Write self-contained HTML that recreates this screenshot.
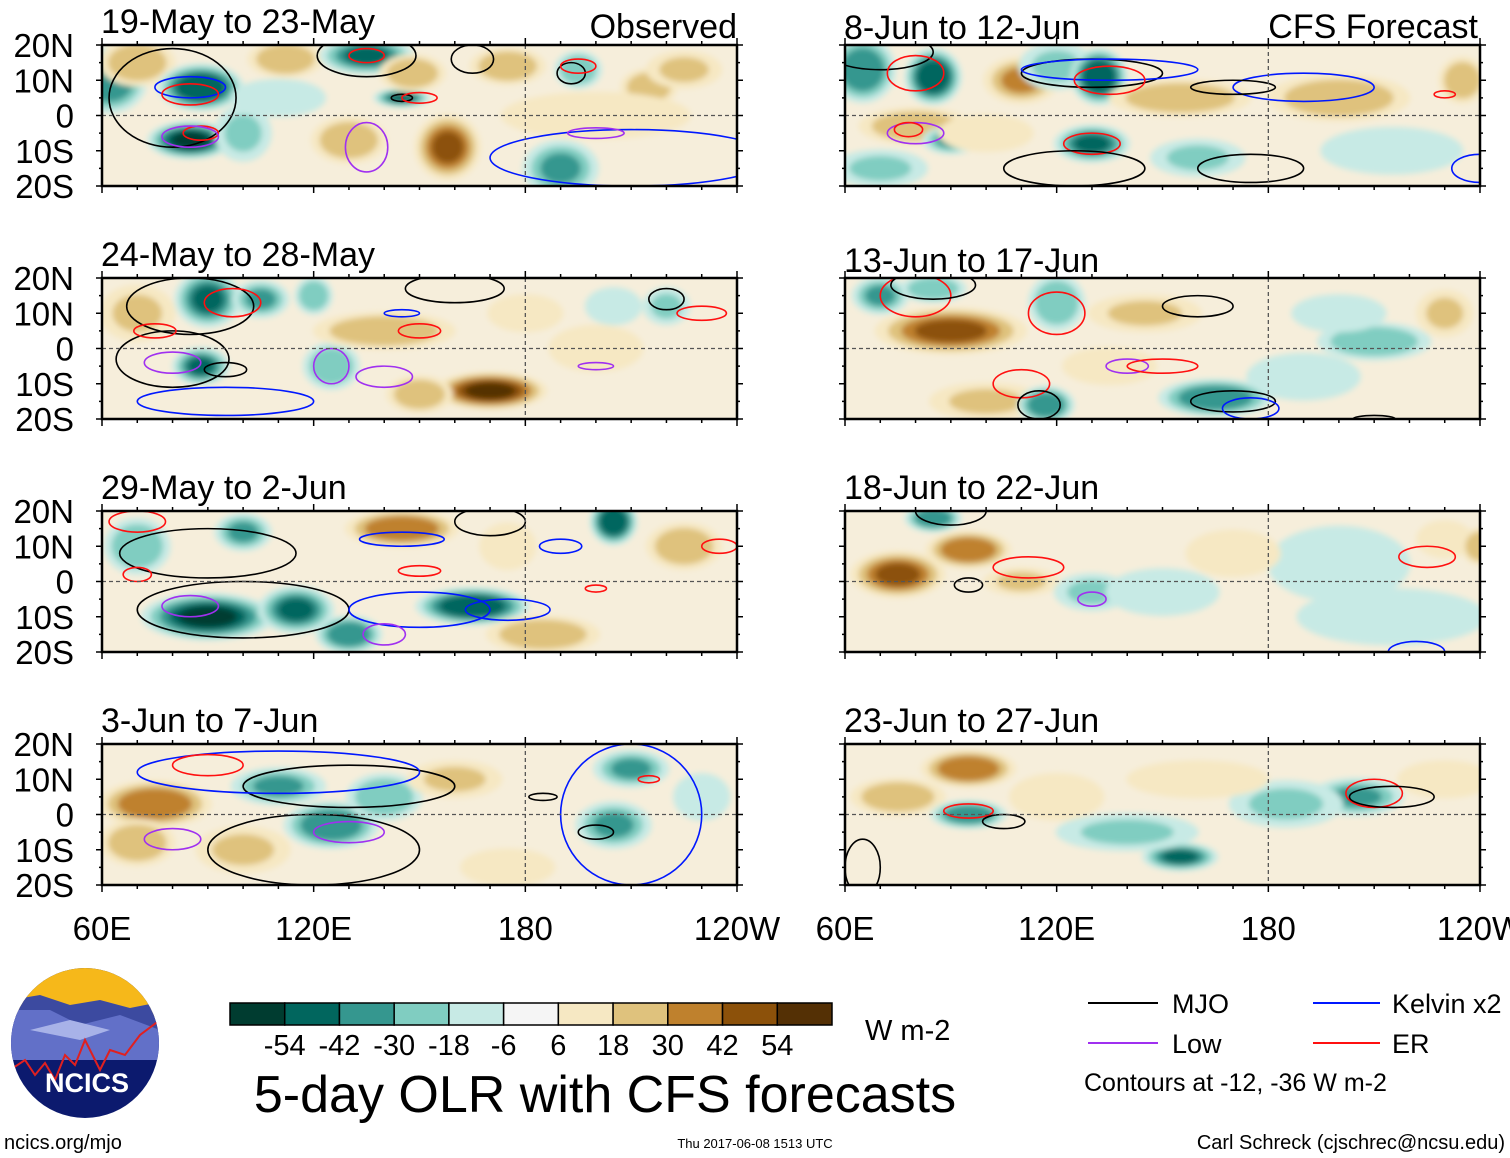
<!DOCTYPE html>
<html><head><meta charset="utf-8">
<style>
html,body{margin:0;padding:0;background:#fff;}
body{width:1510px;height:1158px;overflow:hidden;position:relative;font-family:"Liberation Sans",sans-serif;}
svg{position:absolute;left:0;top:0;}
</style></head>
<body>
<svg id="chart" width="1510" height="1158" viewBox="0 0 1510 1158">
<defs>
<filter id="blur" x="-50%" y="-50%" width="200%" height="200%"><feGaussianBlur stdDeviation="3"/></filter>
</defs>
<g id="panels"></g>
<g id="legend"></g>
</svg>
<script>
// colour scale
const binEdges=[-54,-42,-30,-18,-6,6,18,30,42,54];
const binColors=["#003c30","#01665e","#35978f","#80cdc1","#c7eae5","#f5f5f5","#f6e8c3","#dfc27d","#bf812d","#8c510a","#543005"];
const lonTicks=[60,120,180,240];
const lonTickLabels=["60E","120E","180","120W"];
const latTicks=[20,10,0,-10,-20];
const latTickLabels=["20N","10N","0","10S","20S"];
const panelTitles=["19-May to 23-May","24-May to 28-May","29-May to 2-Jun","3-Jun to 7-Jun","8-Jun to 12-Jun","13-Jun to 17-Jun","18-Jun to 22-Jun","23-Jun to 27-Jun"];
// anomaly blobs: [lon, lat, lonRadius, latRadius, value W m-2]
const anomP1=[[62,10,8,7,-40],[70,15,8,5,30],[88,8,9,5,-50],[85,-7,9,4,-55],[100,-5,6,6,-20],[112,16,8,4,30],[135,17,10,4,-45],[130,-7,8,5,30],[158,-9,7,7,45],[145,5,6,2,-45],[148,12,7,4,25],[175,14,8,4,25],[195,13,5,4,-25],[190,-15,8,6,-35],[215,8,6,4,25],[225,13,8,4,20],[110,5,10,4,-10],[200,0,20,5,12]];
const anomP2=[[90,14,7,6,-45],[105,14,6,4,-35],[88,-5,6,4,-45],[70,10,8,6,20],[125,-5,6,5,-25],[140,5,15,4,28],[170,-12,12,4,55],[150,-13,7,4,25],[200,0,10,5,15],[220,12,5,4,-20],[205,12,6,4,-15],[120,15,4,4,-25],[180,10,8,4,10]];
const anomP3=[[90,-10,14,5,-55],[115,-8,8,5,-45],[165,-7,12,4,-50],[145,15,12,4,40],[70,10,7,6,-25],[100,14,6,4,-30],[205,17,5,5,-50],[185,-15,12,4,25],[225,10,8,5,25],[175,10,6,5,15],[130,-15,7,4,-40]];
const anomP4=[[75,3,12,5,40],[70,-8,8,5,25],[125,-3,10,5,-40],[110,8,10,4,-30],[140,5,8,5,-25],[160,10,10,4,20],[205,-3,8,5,-35],[210,13,8,4,-30],[175,-15,10,4,15],[100,-10,10,5,20],[230,5,6,5,-15]];
const anomF1=[[65,13,7,7,-40],[85,11,6,6,-50],[110,10,8,5,35],[120,14,8,5,-20],[132,11,6,6,-50],[80,-3,12,4,30],[90,-7,6,3,-35],[130,-8,8,4,-45],[160,-12,10,4,-20],[155,5,15,4,25],[200,5,15,5,25],[215,-10,15,5,-15],[70,-15,10,4,-20],[100,-5,10,4,15],[235,10,5,5,25]];
const anomF2=[[90,5,16,5,45],[70,15,6,4,-35],[85,17,7,3,-25],[120,13,6,6,-25],[100,-15,12,4,20],[117,-16,6,4,-40],[165,-14,12,4,-40],[145,10,12,4,20],[210,2,12,4,-25],[200,10,10,4,-15],[230,10,6,5,20],[190,-8,12,5,-12],[135,-5,10,4,15]];
const anomF3=[[75,2,10,5,45],[95,9,9,4,40],[85,18,6,3,-40],[110,0,8,3,20],[130,-3,8,4,-20],[150,-3,12,5,-12],[200,5,15,8,-12],[215,-10,20,6,-12],[230,12,6,4,15],[240,10,4,4,30],[170,8,10,5,10]];
const anomF4=[[95,13,10,4,40],[75,5,10,4,25],[95,0,8,3,-40],[155,-12,8,3,-45],[140,-5,15,4,-18],[205,5,10,4,-30],[185,3,12,5,-18],[230,10,10,4,15],[120,5,10,5,10],[160,10,15,4,12]];
const anomalies=[anomP1,anomP2,anomP3,anomP4,anomF1,anomF2,anomF3,anomF4];
// contour ellipses: [type, lon, lat, lonRadius, latRadius]
const contP1=[["mjo",80,5,18,14],["kelvin",85,8,10,3],["er",85,6,8,3],["er",88,-5,5,2],["low",85,-6,8,3],["low",135,-9,6,7],["mjo",135,17,14,6],["er",135,17,5,2],["mjo",145,5,3,1],["er",150,5,5,1.5],["kelvin",210,-12,40,8],["low",200,-5,8,1.5],["mjo",193,12,4,3],["er",195,14,5,2],["mjo",165,16,6,4]];
const contP2=[["mjo",85,12,18,8],["er",97,13,8,4],["mjo",80,-3,16,8],["low",80,-4,8,3],["mjo",95,-6,6,2],["kelvin",95,-15,25,4],["er",150,5,6,2],["er",75,5,6,2],["low",125,-5,5,5],["low",140,-8,8,3],["mjo",160,17,14,4],["mjo",220,14,5,3],["er",230,10,7,2],["kelvin",145,10,5,1],["low",200,-5,5,1]];
const contP3=[["mjo",100,-8,30,8],["mjo",90,8,25,7],["low",85,-7,8,3],["kelvin",150,-8,20,5],["kelvin",175,-8,12,3],["kelvin",145,12,12,2],["kelvin",190,10,6,2],["er",70,17,8,3],["er",70,2,4,2],["er",150,3,6,1.5],["er",200,-2,3,1],["er",235,10,5,2],["mjo",170,17,10,4],["low",140,-15,6,3]];
const contP4=[["mjo",130,8,30,6],["mjo",120,-10,30,10],["low",80,-7,8,3],["kelvin",110,12,40,6],["kelvin",210,0,20,20],["er",90,14,10,3],["mjo",185,5,4,1],["mjo",200,-5,5,2],["er",215,10,3,1],["low",130,-5,10,3]];
const contF1=[["mjo",70,18,15,5],["er",80,12,8,5],["mjo",130,12,20,4],["kelvin",135,13,25,3],["kelvin",190,8,20,4],["mjo",170,8,12,2],["er",135,10,10,4],["low",80,-5,8,3],["er",78,-4,4,2],["er",130,-8,8,3],["mjo",125,-15,20,5],["mjo",175,-15,15,4],["kelvin",240,-15,8,4],["er",230,6,3,1]];
const contF2=[["er",80,15,10,6],["mjo",85,18,12,4],["er",120,10,8,6],["mjo",160,12,10,3],["low",140,-5,6,2],["er",110,-10,8,4],["mjo",115,-16,6,4],["mjo",170,-15,12,3],["kelvin",175,-17,8,3],["er",150,-5,10,2],["mjo",210,-20,6,1]];
const contF3=[["mjo",90,20,10,4],["er",112,4,10,3],["mjo",95,-1,4,2],["low",130,-5,4,2],["er",225,7,8,3],["kelvin",222,-20,8,3]];
const contF4=[["mjo",65,-15,5,8],["er",95,1,7,2],["mjo",105,-2,6,2],["er",210,6,8,4],["mjo",215,5,12,3]];
const contours=[contP1,contP2,contP3,contP4,contF1,contF2,contF3,contF4];
const contColors={mjo:"#000",kelvin:"#0018ff",er:"#ff1010",low:"#a030f0"};

const NS="http://www.w3.org/2000/svg";
const panelW=635, panelH=141;
const colX=[102,845];
const rowY=[45,278,511,744];
function colorFor(v){let i=0;while(i<binEdges.length&&v>binEdges[i])i++;return binColors[i];}
function mk(tag,attrs,parent){const e=document.createElementNS(NS,tag);for(const k in attrs)e.setAttribute(k,attrs[k]);parent.appendChild(e);return e;}
const root=document.getElementById('panels');
for(let p=0;p<8;p++){
  const c=p<4?0:1, r=p%4;
  const x0=colX[c], y0=rowY[r];
  const xs=lon=>x0+(lon-60)*panelW/180;
  const ys=lat=>y0+(20-lat)*panelH/40;
  const g=mk('g',{},root);
  
  
  const cp=mk('clipPath',{id:'cp'+p},g);
  mk('rect',{x:x0,y:y0,width:panelW,height:panelH},cp);
  const field=mk('g',{'clip-path':'url(#cp'+p+')'},g);
  mk('rect',{x:x0,y:y0,width:panelW,height:panelH,fill:'#f6eedb'},field);
  const blobs=mk('g',{filter:'url(#blur)'},field);
  anomalies[p].forEach(b=>{
    const [lon,lat,rl,rt,v]=b;
    const steps=Math.ceil(Math.abs(v)/12);
    for(let s=1;s<=steps;s++){
      const vv=Math.sign(v)*Math.min(Math.abs(v),s*12);
      const f=1.35*(1-0.7*(s-1)/steps);
      const el=mk('ellipse',{cx:xs(lon),cy:ys(lat),rx:rl*panelW/180*f,ry:rt*panelH/40*f,fill:colorFor(vv)},blobs);
      
      
    }
  });
  contours[p].forEach(k=>{
    const [t,lon,lat,rl,rt]=k;
    const el=mk('ellipse',{cx:xs(lon),cy:ys(lat),rx:rl*panelW/180,ry:rt*panelH/40,fill:'none',stroke:contColors[t],'stroke-width':1.6},field);
    
    
  });
  mk('line',{x1:x0,x2:x0+panelW,y1:ys(0),y2:ys(0),stroke:'#555','stroke-dasharray':'4,3','stroke-width':1.3},g);
  mk('line',{x1:xs(180),x2:xs(180),y1:y0,y2:y0+panelH,stroke:'#555','stroke-dasharray':'4,3','stroke-width':1.3},g);
  mk('rect',{x:x0,y:y0,width:panelW,height:panelH,fill:'none',stroke:'#000','stroke-width':2.5},g);
  for(let lon=60;lon<=240;lon+=10){
    const L=(lon%60===0)?7:4;
    mk('line',{x1:xs(lon),x2:xs(lon),y1:y0-L,y2:y0,stroke:'#000','stroke-width':1.5},g);
    mk('line',{x1:xs(lon),x2:xs(lon),y1:y0+panelH,y2:y0+panelH+L,stroke:'#000','stroke-width':1.5},g);
  }
  for(let lat=-20;lat<=20;lat+=5){
    const L=(lat%10===0)?6:3;
    mk('line',{x1:x0-L,x2:x0,y1:ys(lat),y2:ys(lat),stroke:'#000','stroke-width':1.5},g);
    mk('line',{x1:x0+panelW,x2:x0+panelW+L,y1:ys(lat),y2:ys(lat),stroke:'#000','stroke-width':1.5},g);
  }
  const tt=mk('text',{x:x0-1,y:y0-12+(c===1&&r<2?6:0),'font-size':34,fill:'#000'},g);
  tt.textContent=panelTitles[p];
  
  
  if(c===0){
    latTicks.forEach((lat,i)=>{
      const t=mk('text',{x:74,y:ys(lat)+12,'font-size':33,'text-anchor':'end'},g);
      t.textContent=latTickLabels[i];
      
      
    });
  }
  if(r===3){
    lonTicks.forEach((lon,i)=>{
      const t=mk('text',{x:xs(lon),y:940,'font-size':33,'text-anchor':'middle'},g);
      t.textContent=lonTickLabels[i];
      
      
    });
  }
}
const t1=mk('text',{x:737,y:38,'font-size':34,'text-anchor':'end'},root);t1.textContent='Observed';


const t2=mk('text',{x:1478,y:38,'font-size':34,'text-anchor':'end'},root);t2.textContent='CFS Forecast';



const lg=document.getElementById('legend');
const cbX=230,cbY=1003,cbW=602,cbH=22,bw=cbW/binColors.length;
binColors.forEach((col,i)=>{
  const rc=mk('rect',{x:cbX+i*bw,y:cbY,width:bw,height:cbH,fill:col,stroke:'#000','stroke-width':1.5},lg);
  
  
});
binEdges.forEach((v,i)=>{
  const t=mk('text',{x:cbX+(i+1)*bw,y:1055,'font-size':29,'text-anchor':'middle'},lg);
  t.textContent=String(v);
  
  
});
</script>
<svg width="1510" height="1158" viewBox="0 0 1510 1158" style="pointer-events:none">
<text x="865" y="1040" font-size="29" font-family="Liberation Sans">W m-2</text>
<text x="605" y="1112" font-size="52" text-anchor="middle" font-family="Liberation Sans">5-day OLR with CFS forecasts</text>
<g><line x1="1088" x2="1158" y1="1003" y2="1003" stroke="#000" stroke-width="2"/><text x="1172" y="1013" font-size="27">MJO</text></g>
<g><line x1="1313" x2="1380" y1="1003" y2="1003" stroke="#0018ff" stroke-width="2"/><text x="1392" y="1013" font-size="27">Kelvin x2</text></g>
<g><line x1="1088" x2="1158" y1="1043" y2="1043" stroke="#a030f0" stroke-width="2"/><text x="1172" y="1053" font-size="27">Low</text></g>
<g><line x1="1313" x2="1380" y1="1043" y2="1043" stroke="#ff1010" stroke-width="2"/><text x="1392" y="1053" font-size="27">ER</text></g>
<text x="1084" y="1091" font-size="25">Contours at -12, -36 W m-2</text>
<text x="1505" y="1149" font-size="20" text-anchor="end">Carl Schreck (cjschrec@ncsu.edu)</text>
<text x="4" y="1149" font-size="20">ncics.org/mjo</text>
<text x="755" y="1148" font-size="13" text-anchor="middle">Thu 2017-06-08 1513 UTC</text>
<g>
<clipPath id="lc"><ellipse cx="85" cy="1043" rx="74" ry="75"/></clipPath>
<g clip-path="url(#lc)">
<rect x="10" y="967" width="150" height="152" fill="#0c1a6e"/>
<rect x="10" y="967" width="150" height="50" fill="#f6b81a"/>
<polygon points="10,1000 40,995 70,1005 100,1000 130,1008 160,1002 160,1030 10,1030" fill="#3c4aa0"/>
<polygon points="10,1010 50,1010 80,1025 120,1015 160,1030 160,1060 10,1060" fill="#6270c8"/>
<polygon points="30,1030 70,1020 110,1030 80,1040" fill="#a8b2e8"/>
<polyline points="10,1070 25,1060 35,1075 45,1063 55,1080 65,1055 75,1065 85,1040 100,1070 110,1050 125,1055 140,1035 160,1020" fill="none" stroke="#e02020" stroke-width="2"/>
</g>
<text x="87" y="1092" font-size="27" font-weight="bold" fill="#fff" text-anchor="middle">NCICS</text>
</g>
</svg>
</body></html>
